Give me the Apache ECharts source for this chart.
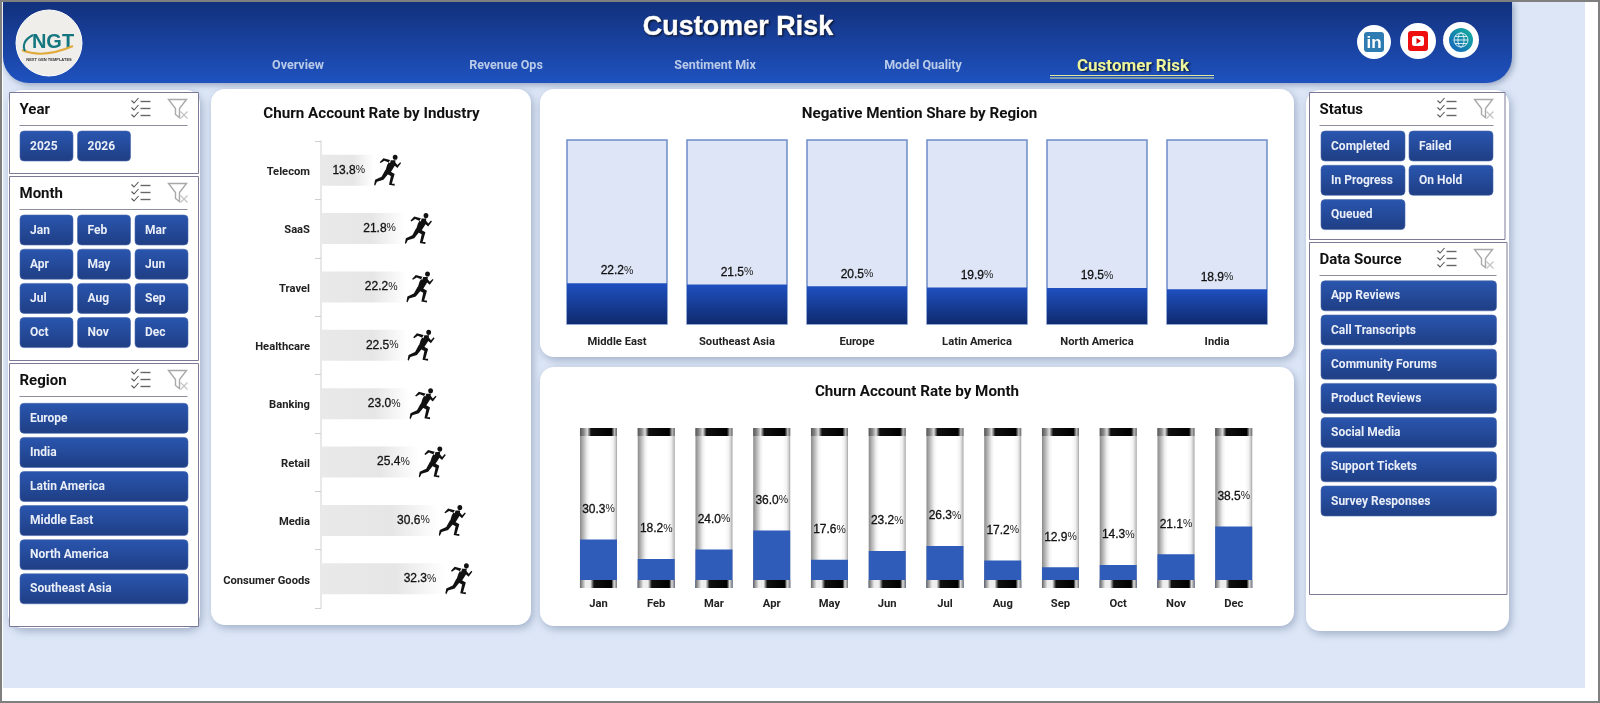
<!DOCTYPE html>
<html>
<head>
  <meta charset="utf-8">
  <title>Customer Risk</title>
  <script src="https://cdn.jsdelivr.net/npm/echarts@6/dist/echarts.min.js"></script>
  <style>
    html, body { margin: 0; padding: 0; background: #fff; }
    #container { width: 1600px; height: 703px; }
  </style>
</head>
<body>
  <div id="container"></div>
  <script>
    // chart data
    const industries = ['Telecom', 'SaaS', 'Travel', 'Healthcare', 'Banking', 'Retail', 'Media', 'Consumer Goods'];
    const industryChurn = [13.8, 21.8, 22.2, 22.5, 23.0, 25.4, 30.6, 32.3];
    const regions = ['Middle East', 'Southeast Asia', 'Europe', 'Latin America', 'North America', 'India'];
    const regionNegative = [22.2, 21.5, 20.5, 19.9, 19.5, 18.9];
    const months = ['Jan', 'Feb', 'Mar', 'Apr', 'May', 'Jun', 'Jul', 'Aug', 'Sep', 'Oct', 'Nov', 'Dec'];
    const monthChurn = [30.3, 18.2, 24.0, 36.0, 17.6, 23.2, 26.3, 17.2, 12.9, 14.3, 21.1, 38.5];

    // slicer + nav text
    const navItems = ['Overview', 'Revenue Ops', 'Sentiment Mix', 'Model Quality'];
    const years = ['2025', '2026'];
    const slicerRegions = ['Europe', 'India', 'Latin America', 'Middle East', 'North America', 'Southeast Asia'];
    const statuses = ['Completed', 'Failed', 'In Progress', 'On Hold', 'Queued'];
    const sources = ['App Reviews', 'Call Transcripts', 'Community Forums', 'Product Reviews', 'Social Media', 'Support Tickets', 'Survey Responses'];

    const UI_FONT = 'Roboto, "Noto Sans", sans-serif';
    const NUM_FONT = '"Liberation Sans", Arial, sans-serif';
    const RUNNER = 'path://M20 3a2.6 2.6 0 1 0 5.2 0a2.6 2.6 0 1 0-5.2 0ZM17 6L23 6L22 12L18 18L12 17L14 11ZM18 6L10 4L6 8L7 9L11 6.5L17 9ZM21 6L25 11L28 8L29 9L25 14L20 10ZM13 15L22 20L19 30L22 30L22 32L16 31L18 22L12 19ZM12 16L16 19L10 26L3 28L1 32L0 31L1 26L8 23Z';

    const Grad = echarts.graphic.LinearGradient;
    const els = [];

    function add(el) { el.z = -10; els.push(el); }
    function rect(x, y, w, h, r, style) {
      add({ type: 'rect', shape: { x: x, y: y, width: w, height: h, r: r }, style: style });
    }
    function label(x, y, text, font, fill, align, extra) {
      add({
        type: 'text', x: x, y: y,
        style: Object.assign({
          text: text, font: font, fill: fill,
          textAlign: align || 'left', align: align || 'left',
          textVerticalAlign: 'middle', verticalAlign: 'middle'
        }, extra || {})
      });
    }
    function line(points, stroke, width) {
      add({ type: 'polyline', shape: { points: points }, style: { fill: null, stroke: stroke, lineWidth: width } });
    }
    function panel(x, y, w, h) {
      rect(x, y, w, h, 14, { fill: '#fff', shadowBlur: 8, shadowOffsetX: 2, shadowOffsetY: 3, shadowColor: 'rgba(70,90,130,0.4)' });
    }
    function button(x, y, w, text) {
      rect(x, y, w, 30, 4, {
        fill: new Grad(0, 0, 0, 1, [{ offset: 0, color: '#2a56af' }, { offset: 1, color: '#1f3e84' }]),
        stroke: '#4a68ad', lineWidth: 0.6
      });
      label(x + 10, y + 15.5, text, 'bold 12px ' + UI_FONT, '#e9eef8');
    }
    function checklistIcon(x, y) {
      [-7, 0, 7].forEach(function (d) {
        line([[x - 10, y + d - 1], [x - 7.5, y + d + 1.5], [x - 3, y + d - 3.5]], '#555', 1.1);
        line([[x - 1, y + d], [x + 9, y + d]], '#666', 1.4);
      });
    }
    function filterIcon(x, y) {
      add({
        type: 'polygon',
        shape: { points: [[x - 9, y - 9], [x + 9, y - 9], [x + 2, y], [x + 2, y + 9], [x - 2, y + 6], [x - 2, y]] },
        style: { fill: '#fff', stroke: '#a9a9a9', lineWidth: 1.4 }
      });
      line([[x + 3, y + 3], [x + 10, y + 10]], '#c4c4c4', 1.2);
      line([[x + 10, y + 3], [x + 3, y + 10]], '#c4c4c4', 1.2);
    }
    function slicerBox(x, y, w, h, title, lineW, iconX) {
      rect(x, y, w, h, 0, { fill: '#fff', stroke: '#7d7a98', lineWidth: 1 });
      label(x + 10, y + 18, title, 'bold 15px ' + UI_FONT, '#111');
      line([[x + 10, y + 33], [x + 10 + lineW, y + 33]], '#8d8d9c', 1.2);
      checklistIcon(x + iconX, y + 16);
      filterIcon(x + iconX + 36, y + 16);
    }

    // page background + frame
    rect(0, 0, 1600, 703, 0, { fill: '#fff' });
    rect(3, 2, 1582, 686, 0, { fill: '#dce6f6' });

    // header
    rect(3, 1, 1509, 82, [0, 0, 26, 26], {
      fill: new Grad(0, 0, 0, 1, [{ offset: 0, color: '#12307c' }, { offset: 1, color: '#1f52bf' }]),
      shadowBlur: 6, shadowOffsetX: 2, shadowOffsetY: 2, shadowColor: 'rgba(60,80,120,0.45)'
    });
    label(738, 28, 'Customer Risk', 'bold 27px ' + NUM_FONT, '#fff', 'center', { stroke: '#fff', lineWidth: 0.5, textShadowColor: 'rgba(0,0,0,0.7)', textShadowBlur: 2, textShadowOffsetX: 1, textShadowOffsetY: 1 });
    [298, 506, 715, 923].forEach(function (x, i) {
      label(x, 66, navItems[i], 'bold 12.5px ' + UI_FONT, '#b9cbe9', 'center');
    });
    label(1133, 67, 'Customer Risk', 'bold 17px ' + UI_FONT, '#eef59a', 'center', { textShadowColor: 'rgba(0,0,0,0.6)', textShadowBlur: 2, textShadowOffsetX: 2, textShadowOffsetY: 1 });
    line([[1050, 75.5], [1214, 75.5]], '#dfe79a', 1.2);
    line([[1050, 78], [1214, 78]], '#dfe79a', 1.2);

    // logo
    add({ type: 'circle', shape: { cx: 49, cy: 43, r: 33 }, style: { fill: '#efeeea', stroke: '#fff', lineWidth: 1 } });
    label(53, 42, 'NGT', 'bold 20px ' + NUM_FONT, '#14767f', 'center');
    add({ type: 'bezierCurve', shape: { x1: 22, y1: 50, cpx1: 36, cpy1: 56, x2: 73, y2: 46, cpx2: 52, cpy2: 55 }, style: { fill: null, stroke: '#e0a93a', lineWidth: 2 } });
    add({ type: 'bezierCurve', shape: { x1: 33, y1: 35, cpx1: 25, cpy1: 39, x2: 25, y2: 51, cpx2: 22, cpy2: 45 }, style: { fill: null, stroke: '#14767f', lineWidth: 2 } });
    label(49, 60, 'NEXT GEN TEMPLATES', 'bold 4px ' + NUM_FONT, '#333', 'center');

    // social icons
    add({ type: 'circle', shape: { cx: 1374, cy: 42, r: 17 }, style: { fill: '#fff' } });
    rect(1364, 32, 20, 20, 3, { fill: '#2f7cb2' });
    label(1374, 43, 'in', 'bold 17px ' + NUM_FONT, '#fff', 'center');
    add({ type: 'circle', shape: { cx: 1418, cy: 41, r: 18 }, style: { fill: '#fff' } });
    rect(1408, 31, 20, 20, 3, { fill: '#ee0d0f' });
    rect(1412, 36, 12, 10, 2.5, { fill: '#fff' });
    add({ type: 'polygon', shape: { points: [[1416.5, 38], [1416.5, 44], [1421, 41]] }, style: { fill: '#d00' } });
    add({ type: 'circle', shape: { cx: 1461, cy: 40, r: 18 }, style: { fill: '#fff' } });
    add({
      type: 'circle', shape: { cx: 1461, cy: 40, r: 12 },
      style: { fill: new Grad(0, 1, 1, 0, [{ offset: 0, color: '#1560c0' }, { offset: 1, color: '#14b39a' }]) }
    });
    add({ type: 'circle', shape: { cx: 1461, cy: 40, r: 7 }, style: { fill: 'none', stroke: '#fff', lineWidth: 0.8 } });
    add({ type: 'ellipse', shape: { cx: 1461, cy: 40, rx: 3, ry: 7 }, style: { fill: 'none', stroke: '#fff', lineWidth: 0.8 } });
    line([[1454, 40], [1468, 40]], '#fff', 0.8);
    line([[1455, 36.5], [1467, 36.5]], '#fff', 0.8);
    line([[1455, 43.5], [1467, 43.5]], '#fff', 0.8);

    // white panels
    panel(8, 90, 192, 538);
    panel(211, 89, 320, 536);
    panel(540, 89, 754, 268);
    panel(540, 367, 754, 259);
    panel(1306, 90, 203, 541);

    // left slicers
    slicerBox(9.5, 92.5, 189, 81, 'Year', 168, 132);
    years.forEach(function (t, i) { button(20 + i * 57.5, 131, 53, t); });
    slicerBox(9.5, 176.5, 189, 184, 'Month', 168, 132);
    months.forEach(function (t, i) {
      button(20 + (i % 3) * 57.5, 215 + Math.floor(i / 3) * 34.2, 53, t);
    });
    slicerBox(9.5, 363.5, 189, 263, 'Region', 168, 132);
    slicerRegions.forEach(function (t, i) { button(20, 403.3 + i * 34.1, 168, t); });

    // right slicers
    slicerBox(1309.5, 92.5, 195.5, 147, 'Status', 174, 138);
    statuses.forEach(function (t, i) {
      button(1321 + (i % 2) * 88, 131 + Math.floor(i / 2) * 34.3, 84, t);
    });
    slicerBox(1309.5, 242.5, 197.5, 352, 'Data Source', 177, 138);
    sources.forEach(function (t, i) { button(1321, 280.8 + i * 34.2, 175.5, t); });

    // outer frame on top of everything in the page chrome
    rect(1, 1, 1598, 701, 0, { fill: 'none', stroke: '#7f7f7f', lineWidth: 2 });

    const myChart = echarts.init(document.getElementById('container'));

    const titleBase = { textAlign: 'center', textVerticalAlign: 'middle', textStyle: { color: '#111', fontFamily: UI_FONT, fontWeight: 'bold', fontSize: 15.2 } };
    const catLabel = { color: '#222', fontFamily: UI_FONT, fontWeight: 'bold', fontSize: 11.2 };
    const numLabel = {
      formatter: function (p) { return '{n|' + p.value.toFixed(1) + '}{p|%}'; },
      rich: {
        n: { color: '#111', fontFamily: NUM_FONT, fontSize: 12, textBorderColor: '#111', textBorderWidth: 0.3 },
        p: { color: '#222', fontFamily: NUM_FONT, fontSize: 10.5 }
      }
    };

    const capGradTop = new Grad(0, 0, 1, 0, [
      { offset: 0, color: '#555' }, { offset: 0.1, color: '#888' }, { offset: 0.2, color: '#ddd' }, { offset: 0.3, color: '#111' },
      { offset: 0.85, color: '#000' }, { offset: 0.93, color: '#bbb' }, { offset: 1, color: '#666' }
    ]);
    const capGradBottom = new Grad(0, 0, 1, 0, [
      { offset: 0, color: '#666' }, { offset: 0.15, color: '#eee' }, { offset: 0.28, color: '#eee' }, { offset: 0.38, color: '#111' },
      { offset: 0.85, color: '#000' }, { offset: 0.92, color: '#ddd' }, { offset: 1, color: '#777' }
    ]);

    var option = {
      animation: false,
      graphic: { elements: els },
      title: [
        Object.assign({ text: 'Churn Account Rate by Industry', left: 366.5, top: 109 }, titleBase),
        Object.assign({ text: 'Negative Mention Share by Region', left: 914.5, top: 109 }, titleBase),
        Object.assign({ text: 'Churn Account Rate by Month', left: 912, top: 387 }, titleBase)
      ],
      grid: [
        { left: 321, top: 141, width: 154, height: 467 },
        { left: 557, top: 140, width: 720, height: 184 },
        { left: 569.6, top: 428, width: 693, height: 160 }
      ],
      xAxis: [
        { type: 'value', gridIndex: 0, min: 0, max: 40, show: false },
        {
          type: 'category', gridIndex: 1, data: regions,
          axisLine: { show: false }, axisTick: { show: false },
          axisLabel: Object.assign({}, catLabel, { margin: 13 })
        },
        {
          type: 'category', gridIndex: 2, data: months,
          axisLine: { show: false }, axisTick: { show: false },
          axisLabel: Object.assign({}, catLabel, { margin: 11 })
        }
      ],
      yAxis: [
        {
          type: 'category', gridIndex: 0, data: industries, inverse: true,
          axisLine: { lineStyle: { color: '#e0e0e0', width: 1.5 } },
          axisTick: { show: true, length: 6, lineStyle: { color: '#cfcfcf', width: 1 } },
          axisLabel: Object.assign({}, catLabel, { margin: 11, verticalAlign: 'top', lineHeight: 4 })
        },
        { type: 'value', gridIndex: 1, min: 0, max: 100, show: false },
        { type: 'value', gridIndex: 2, min: 0, max: 100, show: false }
      ],
      series: [
        {
          type: 'bar', name: 'Churn by industry', xAxisIndex: 0, yAxisIndex: 0,
          data: industryChurn, barWidth: 31, barGap: '-100%',
          itemStyle: { color: new Grad(0, 0, 1, 0, [{ offset: 0, color: '#e9e9e9' }, { offset: 0.6, color: '#e6e6e6' }, { offset: 1, color: '#ffffff' }]) },
          label: Object.assign({ show: true, position: 'insideRight', distance: 9 }, numLabel)
        },
        {
          type: 'pictorialBar', name: 'Runner', xAxisIndex: 0, yAxisIndex: 0,
          data: industryChurn, barWidth: 31, barGap: '-100%',
          symbol: RUNNER, symbolSize: [27, 31], symbolPosition: 'end', symbolOffset: ['100%', 0],
          itemStyle: { color: '#111' }, z: 3
        },
        {
          type: 'bar', name: 'Negative mention share', xAxisIndex: 1, yAxisIndex: 1,
          data: regionNegative, barWidth: 100,
          showBackground: true,
          backgroundStyle: { color: '#dee5f6', borderColor: '#6f8cc8', borderWidth: 1.5 },
          itemStyle: { color: new Grad(0, 0, 0, 1, [{ offset: 0, color: '#1f50c0' }, { offset: 1, color: '#0f2a6e' }]) },
          label: Object.assign({ show: true, position: 'top', distance: 6 }, numLabel)
        },
        {
          type: 'bar', name: 'Churn by month', xAxisIndex: 2, yAxisIndex: 2,
          data: monthChurn, barWidth: 37,
          showBackground: true,
          backgroundStyle: {
            color: new Grad(0, 0, 1, 0, [
              { offset: 0, color: '#8a8a8a' }, { offset: 0.1, color: '#bdbdbd' }, { offset: 0.2, color: '#f0f0f0' },
              { offset: 0.28, color: '#ffffff' }, { offset: 0.8, color: '#ffffff' }, { offset: 0.9, color: '#f2f2f2' },
              { offset: 0.96, color: '#cfcfcf' }, { offset: 1, color: '#a0a0a0' }
            ])
          },
          itemStyle: { color: '#2f5bb9' },
          label: Object.assign({ show: true, position: 'top', distance: 24 }, numLabel)
        },
        {
          // black end caps on the tubes
          type: 'custom', name: 'Tube caps', xAxisIndex: 2, yAxisIndex: 2, z: 4, silent: true,
          data: months.map(function (m, i) { return [i]; }),
          renderItem: function (params, api) {
            const top = api.coord([api.value(0), 100]);
            const bottom = api.coord([api.value(0), 0]);
            return {
              type: 'group',
              children: [
                { type: 'rect', shape: { x: top[0] - 18.5, y: top[1], width: 37, height: 8 }, style: { fill: capGradTop } },
                { type: 'rect', shape: { x: bottom[0] - 18.5, y: bottom[1] - 8, width: 37, height: 8 }, style: { fill: capGradBottom } }
              ]
            };
          }
        }
      ]
    };
    myChart.setOption(option);
  </script>
</body>
</html>
